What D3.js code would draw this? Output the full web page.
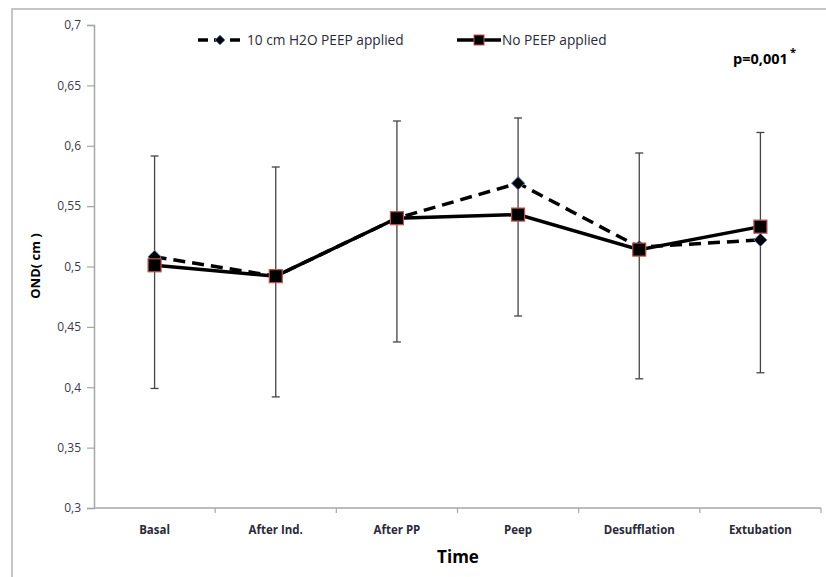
<!DOCTYPE html>
<html>
<head>
<meta charset="utf-8">
<script src="https://cdn.jsdelivr.net/npm/d3@7"></script>
<style>
  body { margin: 0; background: #fff; }
  text { font-family: "Open Sans", "DejaVu Sans", sans-serif; }
</style>
</head>
<body>
<svg id="chart"></svg>
<script>
let categories = ['Basal', 'After Ind.', 'After PP', 'Peep', 'Desufflation', 'Extubation']
let peepValues = [0.508, 0.492, 0.540, 0.569, 0.516, 0.522]
let noPeepValues = [0.501, 0.492, 0.540, 0.543, 0.514, 0.533]
let errLow = [0.399, 0.392, 0.4375, 0.459, 0.407, 0.412]
let errHigh = [0.5915, 0.5824, 0.6205, 0.623, 0.594, 0.611]
let yTicks = [0.3, 0.35, 0.4, 0.45, 0.5, 0.55, 0.6, 0.65, 0.7]

let width = 826
let height = 577

let svg = d3.select('#chart')
    .attr('width', width)
    .attr('height', height)

// outer frame (only left and top are inside the picture)
svg.append('path')
   .attr('d', 'M12,' + height + ' V9 H' + width)
   .attr('fill', 'none')
   .attr('stroke', '#b4b4b4')
   .attr('stroke-width', 1.5)

let xScale = d3.scaleBand()
               .domain(categories)
               .range([94, 821])

let yScale = d3.scaleLinear()
               .domain([0.3, 0.7])
               .range([508, 25])

let fmt = (d) => d3.format('')(+d.toFixed(2)).replace('.', ',')

// y axis
let yAxis = d3.axisLeft(yScale)
              .tickValues(yTicks)
              .tickFormat(fmt)
              .tickSize(7)
              .tickPadding(6)
let yg = svg.append('g')
   .attr('transform', 'translate(94,0)')
   .call(yAxis)
yg.select('.domain').attr('stroke', '#a6a6a6').attr('stroke-width', 1.5)
yg.selectAll('.tick line').attr('stroke', '#a6a6a6').attr('stroke-width', 1.2)
yg.selectAll('.tick text')
  .attr('fill', '#3a3a4a')
  .style('font-size', '12px')

// x axis with ticks at band boundaries
let xg = svg.append('g')
   .attr('transform', 'translate(0,508)')
xg.append('line')
  .attr('x1', 94).attr('x2', 821)
  .attr('stroke', '#a6a6a6').attr('stroke-width', 1.5)
xg.selectAll('.xtick')
  .data(categories)
  .enter()
  .append('line')
  .attr('x1', (d) => xScale(d) + xScale.bandwidth())
  .attr('x2', (d) => xScale(d) + xScale.bandwidth())
  .attr('y1', 0).attr('y2', 5)
  .attr('stroke', '#a6a6a6').attr('stroke-width', 1.2)
xg.selectAll('.xlabel')
  .data(categories)
  .enter()
  .append('text')
  .attr('x', (d) => xScale(d) + xScale.bandwidth() / 2)
  .attr('y', 26)
  .attr('text-anchor', 'middle')
  .attr('fill', '#2a2a38')
  .style('font-size', '11.5px')
  .style('font-weight', 'bold')
  .text((d) => d)

// axis titles
svg.append('text')
   .attr('x', 458).attr('y', 563)
   .attr('text-anchor', 'middle')
   .style('font-size', '17px')
   .style('font-weight', 'bold')
   .text('Time')

svg.append('text')
   .attr('transform', 'translate(40,266) rotate(-90)')
   .attr('text-anchor', 'middle')
   .style('font-size', '13px')
   .style('font-weight', 'bold')
   .text('OND( cm )')

let cx = (i) => xScale(categories[i]) + xScale.bandwidth() / 2

// error bars
let eb = svg.append('g').attr('stroke', '#444').attr('stroke-width', 1.3)
categories.forEach((c, i) => {
    eb.append('line')
      .attr('x1', cx(i)).attr('x2', cx(i))
      .attr('y1', yScale(errLow[i])).attr('y2', yScale(errHigh[i]))
    ;[errLow[i], errHigh[i]].forEach((v) => {
        eb.append('line')
          .attr('x1', cx(i) - 4).attr('x2', cx(i) + 4)
          .attr('y1', yScale(v)).attr('y2', yScale(v))
    })
})

let line = d3.line()
             .x((d, i) => cx(i))
             .y((d) => yScale(d))

// dashed series with diamonds
svg.append('path')
   .datum(peepValues)
   .attr('d', line)
   .attr('fill', 'none')
   .attr('stroke', '#000')
   .attr('stroke-width', 3.5)
   .attr('stroke-dasharray', '12,7')

let diamond = d3.symbol().type(d3.symbolDiamond2).size(110)
svg.selectAll('.dia')
   .data(peepValues)
   .enter()
   .append('path')
   .attr('d', diamond)
   .attr('transform', (d, i) => 'translate(' + cx(i) + ',' + yScale(d) + ')')
   .attr('fill', '#000')
   .attr('stroke', '#4f81bd')
   .attr('stroke-width', 1)

// solid series with squares
svg.append('path')
   .datum(noPeepValues)
   .attr('d', line)
   .attr('fill', 'none')
   .attr('stroke', '#000')
   .attr('stroke-width', 3.5)

svg.selectAll('.sq')
   .data(noPeepValues)
   .enter()
   .append('rect')
   .attr('x', (d, i) => cx(i) - 6.5)
   .attr('y', (d) => yScale(d) - 6.5)
   .attr('width', 13).attr('height', 13)
   .attr('fill', '#000')
   .attr('stroke', '#c0504d')
   .attr('stroke-width', 1.2)

// legend
let lg = svg.append('g')
lg.append('line')
  .attr('x1', 198).attr('x2', 243).attr('y1', 40).attr('y2', 40)
  .attr('stroke', '#000').attr('stroke-width', 3.5).attr('stroke-dasharray', '10,6')
lg.append('path')
  .attr('d', d3.symbol().type(d3.symbolDiamond2).size(60))
  .attr('transform', 'translate(220,40)')
  .attr('fill', '#000').attr('stroke', '#4f81bd')
lg.append('text')
  .attr('x', 247).attr('y', 44.5)
  .style('font-size', '13.7px')
  .attr('fill', '#2a2a38')
  .text('10 cm H2O PEEP applied')

lg.append('line')
  .attr('x1', 457).attr('x2', 501).attr('y1', 40).attr('y2', 40)
  .attr('stroke', '#000').attr('stroke-width', 3.5)
lg.append('rect')
  .attr('x', 474).attr('y', 35).attr('width', 10).attr('height', 10)
  .attr('fill', '#000').attr('stroke', '#c0504d')
lg.append('text')
  .attr('x', 502).attr('y', 44.5)
  .style('font-size', '13.7px')
  .attr('fill', '#2a2a38')
  .text('No PEEP applied')

// p value
svg.append('text')
   .attr('x', 733).attr('y', 64)
   .style('font-size', '14.5px')
   .style('font-weight', 'bold')
   .text('p=0,001')
svg.append('text')
   .attr('x', 790).attr('y', 56)
   .style('font-size', '11px')
   .style('font-weight', 'bold')
   .text('*')
</script>
</body>
</html>
